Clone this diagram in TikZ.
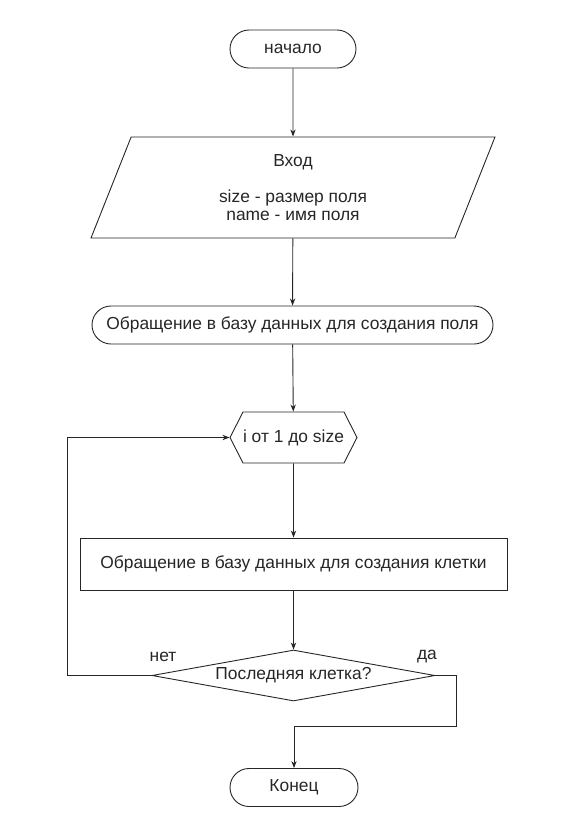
\documentclass[tikz,border=0pt]{standalone}
\usepackage{fontspec}
\setmainfont{Liberation Sans}
\usepackage{xcolor}
\usetikzlibrary{arrows.meta,shapes.geometric,shapes.symbols}

\begin{document}
\begin{tikzpicture}[x=1pt,y=-1pt,>=Stealth,
  every node/.style={font=\fontsize{17.4}{18}\selectfont,text=black!85,inner sep=0pt},
  term/.style={draw,rounded corners=19pt,minimum width=126pt,minimum height=38pt},
  io/.style={draw,trapezium,trapezium stretches=true,trapezium left angle=74.5,
    trapezium right angle=105.5,minimum width=405pt,minimum height=101pt,align=center},
  cyc/.style={draw,signal,signal to=west and east,signal pointer angle=126,
    minimum width=127pt,minimum height=51pt},
  proc/.style={draw,minimum width=427pt,minimum height=52pt},
  cond/.style={draw,diamond,aspect=5.55,minimum width=283pt,minimum height=51pt}]
\useasboundingbox (0,0) rectangle (588,831);
\tikzset{every path/.style={line width=0.9pt,black!85}}
\node[term] (start) at (293,49) {начало};
\node[io] (input) at (293,187.5) {Вход\\[18pt]size - размер поля\\name - имя поля};
\node[term,minimum width=401pt] (db) at (292.5,325) {Обращение в базу данных для создания поля};
\node[cyc] (loop) at (293.5,437.5) {i от 1 до size};
\node[proc] (cell) at (293.5,564) {Обращение в базу данных для создания клетки};
\node[cond] (check) at (293.5,675.5) {Последняя клетка?};
\node[term,minimum width=128pt] (stop) at (294,787.5) {Конец};
\node (no) at (163,657) {нет};
\node (yes) at (427,657) {да};
% main line
\draw[->] (start) -- (input);
\draw[->] (input) -- (db);
\draw[->] (db) -- (loop);
\draw[->] (loop) -- (cell);
\draw[->] (cell) -- (check);
% branches
\draw[->] (check.west) -- ++(-84,0) |- (loop.west);
\draw[->] (check.east) -- ++(21,0) -- ++(0,51) -| (stop.north);
\end{tikzpicture}
\end{document}
